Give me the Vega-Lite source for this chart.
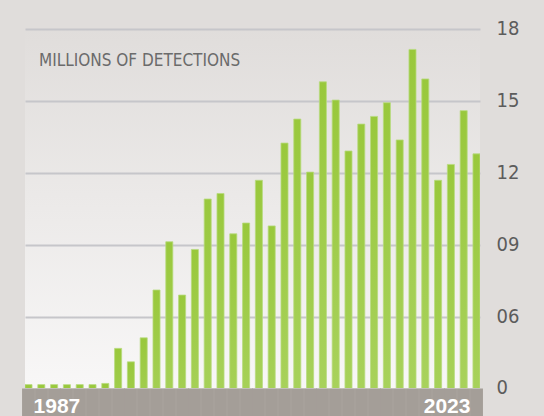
{
  "$schema": "https://vega.github.io/schema/vega-lite/v6.json",
  "width": 455,
  "height": 359,
  "autosize": {"type": "none"},
  "padding": {"left": 25, "top": 29, "right": 64, "bottom": 28},
  "background": "#e0dddb",
  "title": {
    "text": "MILLIONS OF DETECTIONS",
    "anchor": "start",
    "frame": "group",
    "dx": 14,
    "dy": 65,
    "offset": 0,
    "baseline": "alphabetic",
    "font": "DejaVu Sans Condensed, sans-serif",
    "fontSize": 17,
    "fontWeight": "normal",
    "color": "#6b6b6b"
  },
  "data": {
    "values": [
      {"year": 1987, "detections": 3.19},
      {"year": 1989, "detections": 3.19},
      {"year": 1990, "detections": 3.19},
      {"year": 1991, "detections": 3.19},
      {"year": 1992, "detections": 3.19},
      {"year": 1993, "detections": 3.19},
      {"year": 1994, "detections": 3.24},
      {"year": 1995, "detections": 4.70},
      {"year": 1996, "detections": 4.14},
      {"year": 1997, "detections": 5.14},
      {"year": 1998, "detections": 7.13},
      {"year": 1999, "detections": 9.14},
      {"year": 2000, "detections": 6.92},
      {"year": 2001, "detections": 8.82},
      {"year": 2002, "detections": 10.92},
      {"year": 2003, "detections": 11.15},
      {"year": 2004, "detections": 9.47},
      {"year": 2005, "detections": 9.92},
      {"year": 2006, "detections": 11.70},
      {"year": 2007, "detections": 9.80},
      {"year": 2008, "detections": 13.25},
      {"year": 2009, "detections": 14.25},
      {"year": 2010, "detections": 12.04},
      {"year": 2011, "detections": 15.80},
      {"year": 2012, "detections": 15.04},
      {"year": 2013, "detections": 12.92},
      {"year": 2014, "detections": 14.04},
      {"year": 2015, "detections": 14.36},
      {"year": 2016, "detections": 14.93},
      {"year": 2017, "detections": 13.38},
      {"year": 2018, "detections": 17.15},
      {"year": 2019, "detections": 15.92},
      {"year": 2020, "detections": 11.70},
      {"year": 2021, "detections": 12.36},
      {"year": 2022, "detections": 14.60},
      {"year": 2023, "detections": 12.80}
    ]
  },
  "mark": {
    "type": "bar",
    "clip": true,
    "color": {
      "gradient": "linear",
      "x1": 0, "y1": 0, "x2": 0, "y2": 1,
      "stops": [
        {"offset": 0, "color": "#99c83c"},
        {"offset": 1, "color": "#acd464"}
      ]
    },
    "stroke": "#b8db7e",
    "strokeWidth": 0.8
  },
  "encoding": {
    "x": {
      "field": "year",
      "type": "ordinal",
      "scale": {"paddingInner": 0.45, "paddingOuter": 0},
      "axis": {
        "title": null,
        "orient": "bottom",
        "zindex": 1,
        "offset": 0,
        "domain": false,
        "ticks": true,
        "tickSize": 28,
        "tickWidth": 12.9,
        "tickCap": "butt",
        "tickColor": "#a49e98",
        "grid": false,
        "labelAngle": 0,
        "labelPadding": -4,
        "labelBaseline": "alphabetic",
        "labelColor": "#ffffff",
        "labelFont": "Liberation Sans, sans-serif",
        "labelFontSize": 21,
        "labelFontWeight": "bold",
        "labelOverlap": false,
        "labelBound": false,
        "labelExpr": "datum.label == '1987' || datum.label == '2023' ? datum.label : ''",
        "labelAlign": {"condition": {"test": "datum.label == '1987'", "value": "left"}, "value": "right"},
        "labelOffset": {"condition": {"test": "datum.label == '1987'", "value": 5}, "value": -6}
      }
    },
    "y": {
      "field": "detections",
      "type": "quantitative",
      "scale": {"domain": [3.05, 18], "nice": false, "zero": false},
      "axis": {
        "title": null,
        "orient": "right",
        "values": [3.05, 6, 9, 12, 15, 18],
        "labelExpr": "datum.value < 4 ? '0' : (datum.value < 10 ? '0' + datum.value : '' + datum.value)",
        "domain": false,
        "ticks": false,
        "grid": true,
        "gridColor": {"condition": {"test": "datum.value < 4", "value": "transparent"}, "value": "#c6c6ca"},
        "gridWidth": 2,
        "labelPadding": 16,
        "labelAlign": "left",
        "labelBaseline": "alphabetic",
        "labelOffset": 5,
        "labelFont": "DejaVu Sans Condensed, sans-serif",
        "labelFontSize": 20,
        "labelColor": "#5c5c5c",
        "labelOverlap": false
      }
    }
  },
  "config": {
    "view": {
      "stroke": null,
      "fill": {
        "gradient": "linear",
        "x1": 0, "y1": 0, "x2": 0, "y2": 1,
        "stops": [
          {"offset": 0, "color": "#e0dddb"},
          {"offset": 1, "color": "#f8f7f7"}
        ]
      }
    }
  }
}
